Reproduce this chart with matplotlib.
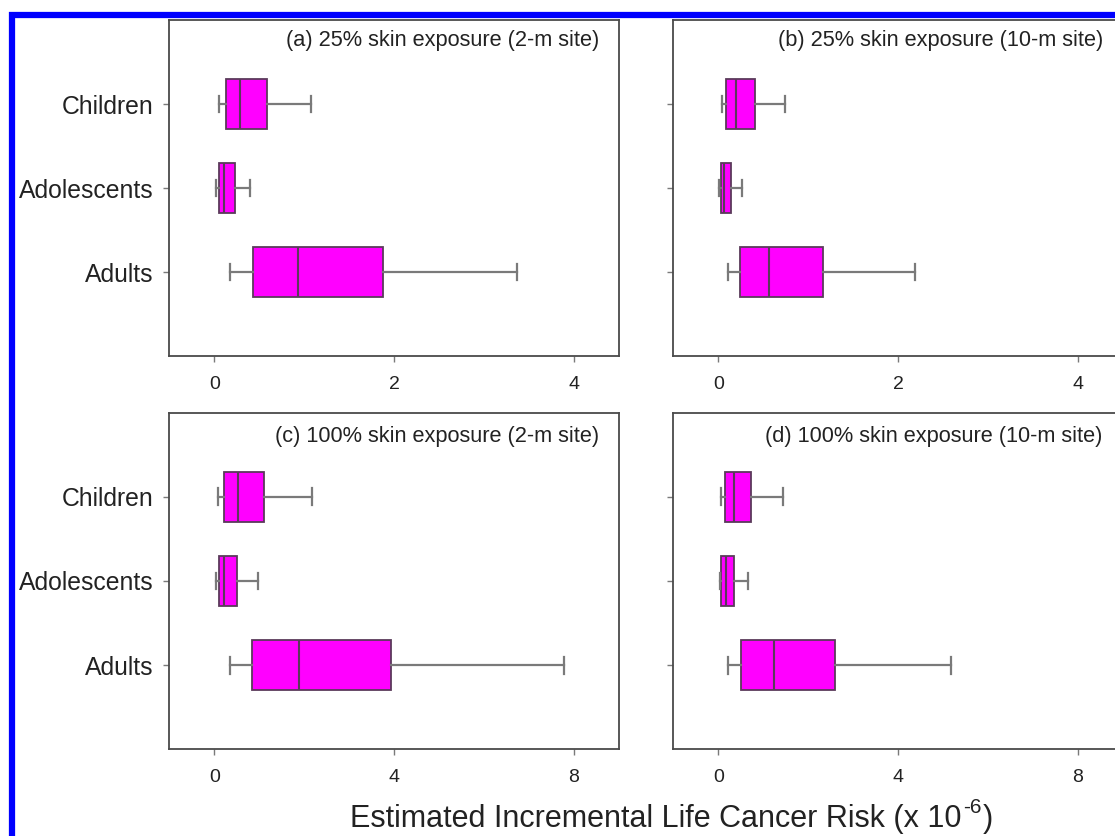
import matplotlib
matplotlib.use("Agg")
import matplotlib.pyplot as plt
from matplotlib.patches import Rectangle

plt.rcParams['font.family'] = ['Liberation Sans', 'DejaVu Sans']

groups = ['Children', 'Adolescents', 'Adults']

# five-number summaries (low whisker, q1, median, q3, high whisker), x 10^-6
a_lo = [0.05, 0.02, 0.18]
a_q1 = [0.13, 0.05, 0.43]
a_med = [0.29, 0.11, 0.93]
a_q3 = [0.59, 0.23, 1.88]
a_hi = [1.07, 0.40, 3.37]

b_lo = [0.04, 0.01, 0.11]
b_q1 = [0.09, 0.03, 0.24]
b_med = [0.20, 0.06, 0.56]
b_q3 = [0.41, 0.14, 1.16]
b_hi = [0.74, 0.26, 2.19]

c_lo = [0.09, 0.045, 0.36]
c_q1 = [0.22, 0.10, 0.84]
c_med = [0.52, 0.22, 1.89]
c_q3 = [1.10, 0.50, 3.94]
c_hi = [2.17, 0.97, 7.77]

d_lo = [0.07, 0.04, 0.22]
d_q1 = [0.15, 0.07, 0.50]
d_med = [0.35, 0.17, 1.23]
d_q3 = [0.73, 0.34, 2.60]
d_hi = [1.45, 0.65, 5.18]

titles = ['(a) 25% skin exposure (2-m site)',
          '(b) 25% skin exposure (10-m site)',
          '(c) 100% skin exposure (2-m site)',
          '(d) 100% skin exposure (10-m site)']
xticks_top = [0, 2, 4]
xticks_bot = [0, 4, 8]

panels = [
    (a_lo, a_q1, a_med, a_q3, a_hi),
    (b_lo, b_q1, b_med, b_q3, b_hi),
    (c_lo, c_q1, c_med, c_q3, c_hi),
    (d_lo, d_q1, d_med, d_q3, d_hi),
]

W, H = 1115, 836
fig = plt.figure(figsize=(W / 100, H / 100), dpi=100)

# axes boxes in pixels: left, top, right, bottom (right column runs off the edge)
boxes = [
    (169.3, 20, 619, 356),
    (673.3, 20, 1123, 356),
    (169.3, 412.7, 619, 749.3),
    (673.3, 412.7, 1123, 749.3),
]

edge = '#5a3a5a'
wcol = '#7a7a7a'
spine = '#4a4a4a'
txt = '#222222'

for i, (src, box) in enumerate(zip(panels, boxes)):
    l, t, r, b = box
    ax = fig.add_axes([l / W, 1 - b / H, (r - l) / W, (b - t) / H])
    lo, q1, med, q3, hi = src
    stats = []
    for k in range(3):
        stats.append(dict(whislo=lo[k], q1=q1[k], med=med[k], q3=q3[k],
                          whishi=hi[k], fliers=[]))
    positions = [3, 2, 1]
    ax.bxp(stats, positions=positions, vert=False, widths=0.6,
           capwidths=0.2, patch_artist=True, showfliers=False,
           boxprops=dict(facecolor='#ff00ff', edgecolor=edge, linewidth=1.3),
           medianprops=dict(color=edge, linewidth=1.5),
           whiskerprops=dict(color=wcol, linewidth=1.6),
           capprops=dict(color=wcol, linewidth=1.6))
    ax.set_ylim(0, 4)
    if i < 2:
        ax.set_xlim(-0.5, 4.5)
        ax.set_xticks(xticks_top)
    else:
        ax.set_xlim(-1, 9)
        ax.set_xticks(xticks_bot)
    ax.set_yticks(positions)
    if i % 2 == 0:
        ax.set_yticklabels(groups, fontsize=17.8, color=txt)
    else:
        ax.set_yticklabels([])
    ax.tick_params(axis='x', length=4.3, width=1, color=wcol, pad=10,
                   labelsize=14, labelcolor=txt)
    ax.tick_params(axis='y', length=4.3, width=1, color=wcol, pad=7)
    for s in ax.spines.values():
        s.set_color(spine)
        s.set_linewidth(1.3)
    ty = 0.94 if i < 2 else 0.928
    ax.text(0.955, ty, titles[i], transform=ax.transAxes,
            fontsize=15.7, color=txt, ha='right', va='center')

# x label with a plain hyphen in the exponent, as in the original
lab = fig.text(350 / W, 1 - 834 / H, 'Estimated Incremental Life Cancer Risk (x 10',
               fontsize=22, color=txt, ha='left', va='bottom')
sup = plt.annotate('-6', xy=(1, 0), xycoords=lab, xytext=(1, 12),
                   textcoords='offset points', fontsize=15, color=txt,
                   ha='left', va='bottom', annotation_clip=False)
plt.annotate(')', xy=(1, 0), xycoords=(sup, lab), xytext=(1, 0),
             textcoords='offset points', fontsize=22, color=txt,
             ha='left', va='bottom', annotation_clip=False)

fig.patches.append(Rectangle((11.5 / W, -1), 2, 1 + (1 - 14.5 / H),
                             transform=fig.transFigure, fill=False,
                             edgecolor='#0000ff', linewidth=4.5))

fig.savefig('out.png', dpi=100)
